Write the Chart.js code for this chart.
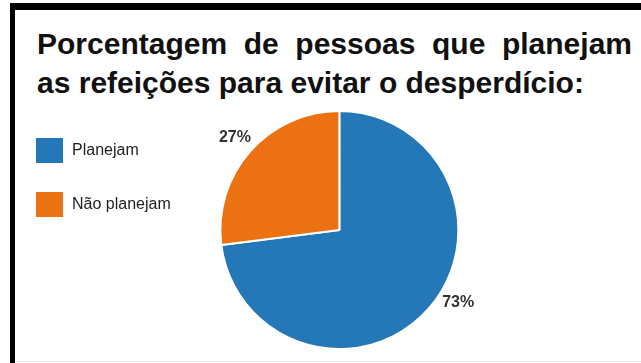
<!DOCTYPE html>
<html lang="pt">
<head>
<meta charset="utf-8">
<title>Planejam as refeições</title>
<script src="https://cdn.jsdelivr.net/npm/chart.js@4/dist/chart.umd.min.js"></script>
<style>
  html, body { margin: 0; padding: 0; background: #fff; }
  body { width: 641px; height: 363px; position: relative; overflow: hidden; }
  #topbar { position: absolute; left: 10px; top: 3px; width: 631px; height: 7px; background: #000; }
  #leftbar { position: absolute; left: 10px; top: 3px; width: 5px; height: 360px; background: #000; }
  #bottomline { position: absolute; left: 15px; top: 361px; width: 626px; height: 1px; background: #ececec; }
  #title {
    position: absolute; left: 37px; top: 24px; width: 595px;
    font: bold 30px "Liberation Sans", Arial, sans-serif;
    line-height: 39px; color: #111; text-align: justify;
  }
  #wrap { position: absolute; left: 0; top: 105px; width: 641px; height: 250px; }
</style>
</head>
<body>
<div id="topbar"></div>
<div id="leftbar"></div>
<div id="bottomline"></div>
<div id="title">Porcentagem de pessoas que planejam as refeições para evitar o desperdício:</div>
<div id="wrap"><canvas id="myChart"></canvas></div>

<script>
// data
var categories = ['Planejam', 'Não planejam'];
var percent = [73, 27];
var colors = ['#2478b8', '#ec7113'];

// draws the % labels just outside each slice
var outsideLabels = {
  id: 'outsideLabels',
  afterDatasetsDraw: function(chart, args, opts) {
    var ctx = chart.ctx;
    var meta = chart.getDatasetMeta(0);
    ctx.save();
    ctx.font = 'bold 16px "Liberation Sans", Arial, sans-serif';
    ctx.fillStyle = '#333';
    ctx.textAlign = 'center';
    ctx.textBaseline = 'middle';
    meta.data.forEach(function(arc, i) {
      var mid = (arc.startAngle + arc.endAngle) / 2 + (opts.nudge[i] || 0) * Math.PI / 180;
      var r = arc.outerRadius * opts.radius;
      ctx.fillText(percent[i] + '%', arc.x + Math.cos(mid) * r, arc.y + Math.sin(mid) * r);
    });
    ctx.restore();
  }
};

var ctx = document.getElementById('myChart');
var chart = new Chart(ctx, {
  type: 'pie',
  data: {
    labels: categories,
    datasets: [{
      data: percent,
      backgroundColor: colors,
      borderColor: '#fff',
      borderWidth: 2,
      hoverOffset: 0
    }]
  },
  options: {
    responsive: true,
    maintainAspectRatio: false,
    animation: false,
    layout: { padding: { top: 5, bottom: 5, left: 8, right: 143 } },
    plugins: {
      tooltip: { enabled: false },
      legend: {
        position: 'left',
        align: 'start',
        labels: {
          boxWidth: 29,
          boxHeight: 27,
          padding: 27,
          color: '#222',
          font: { family: '"Liberation Sans", Arial, sans-serif', size: 16 }
        }
      },
      outsideLabels: { radius: 1.17, nudge: [-10, 0] }
    }
  },
  plugins: [outsideLabels]
});
</script>
</body>
</html>
